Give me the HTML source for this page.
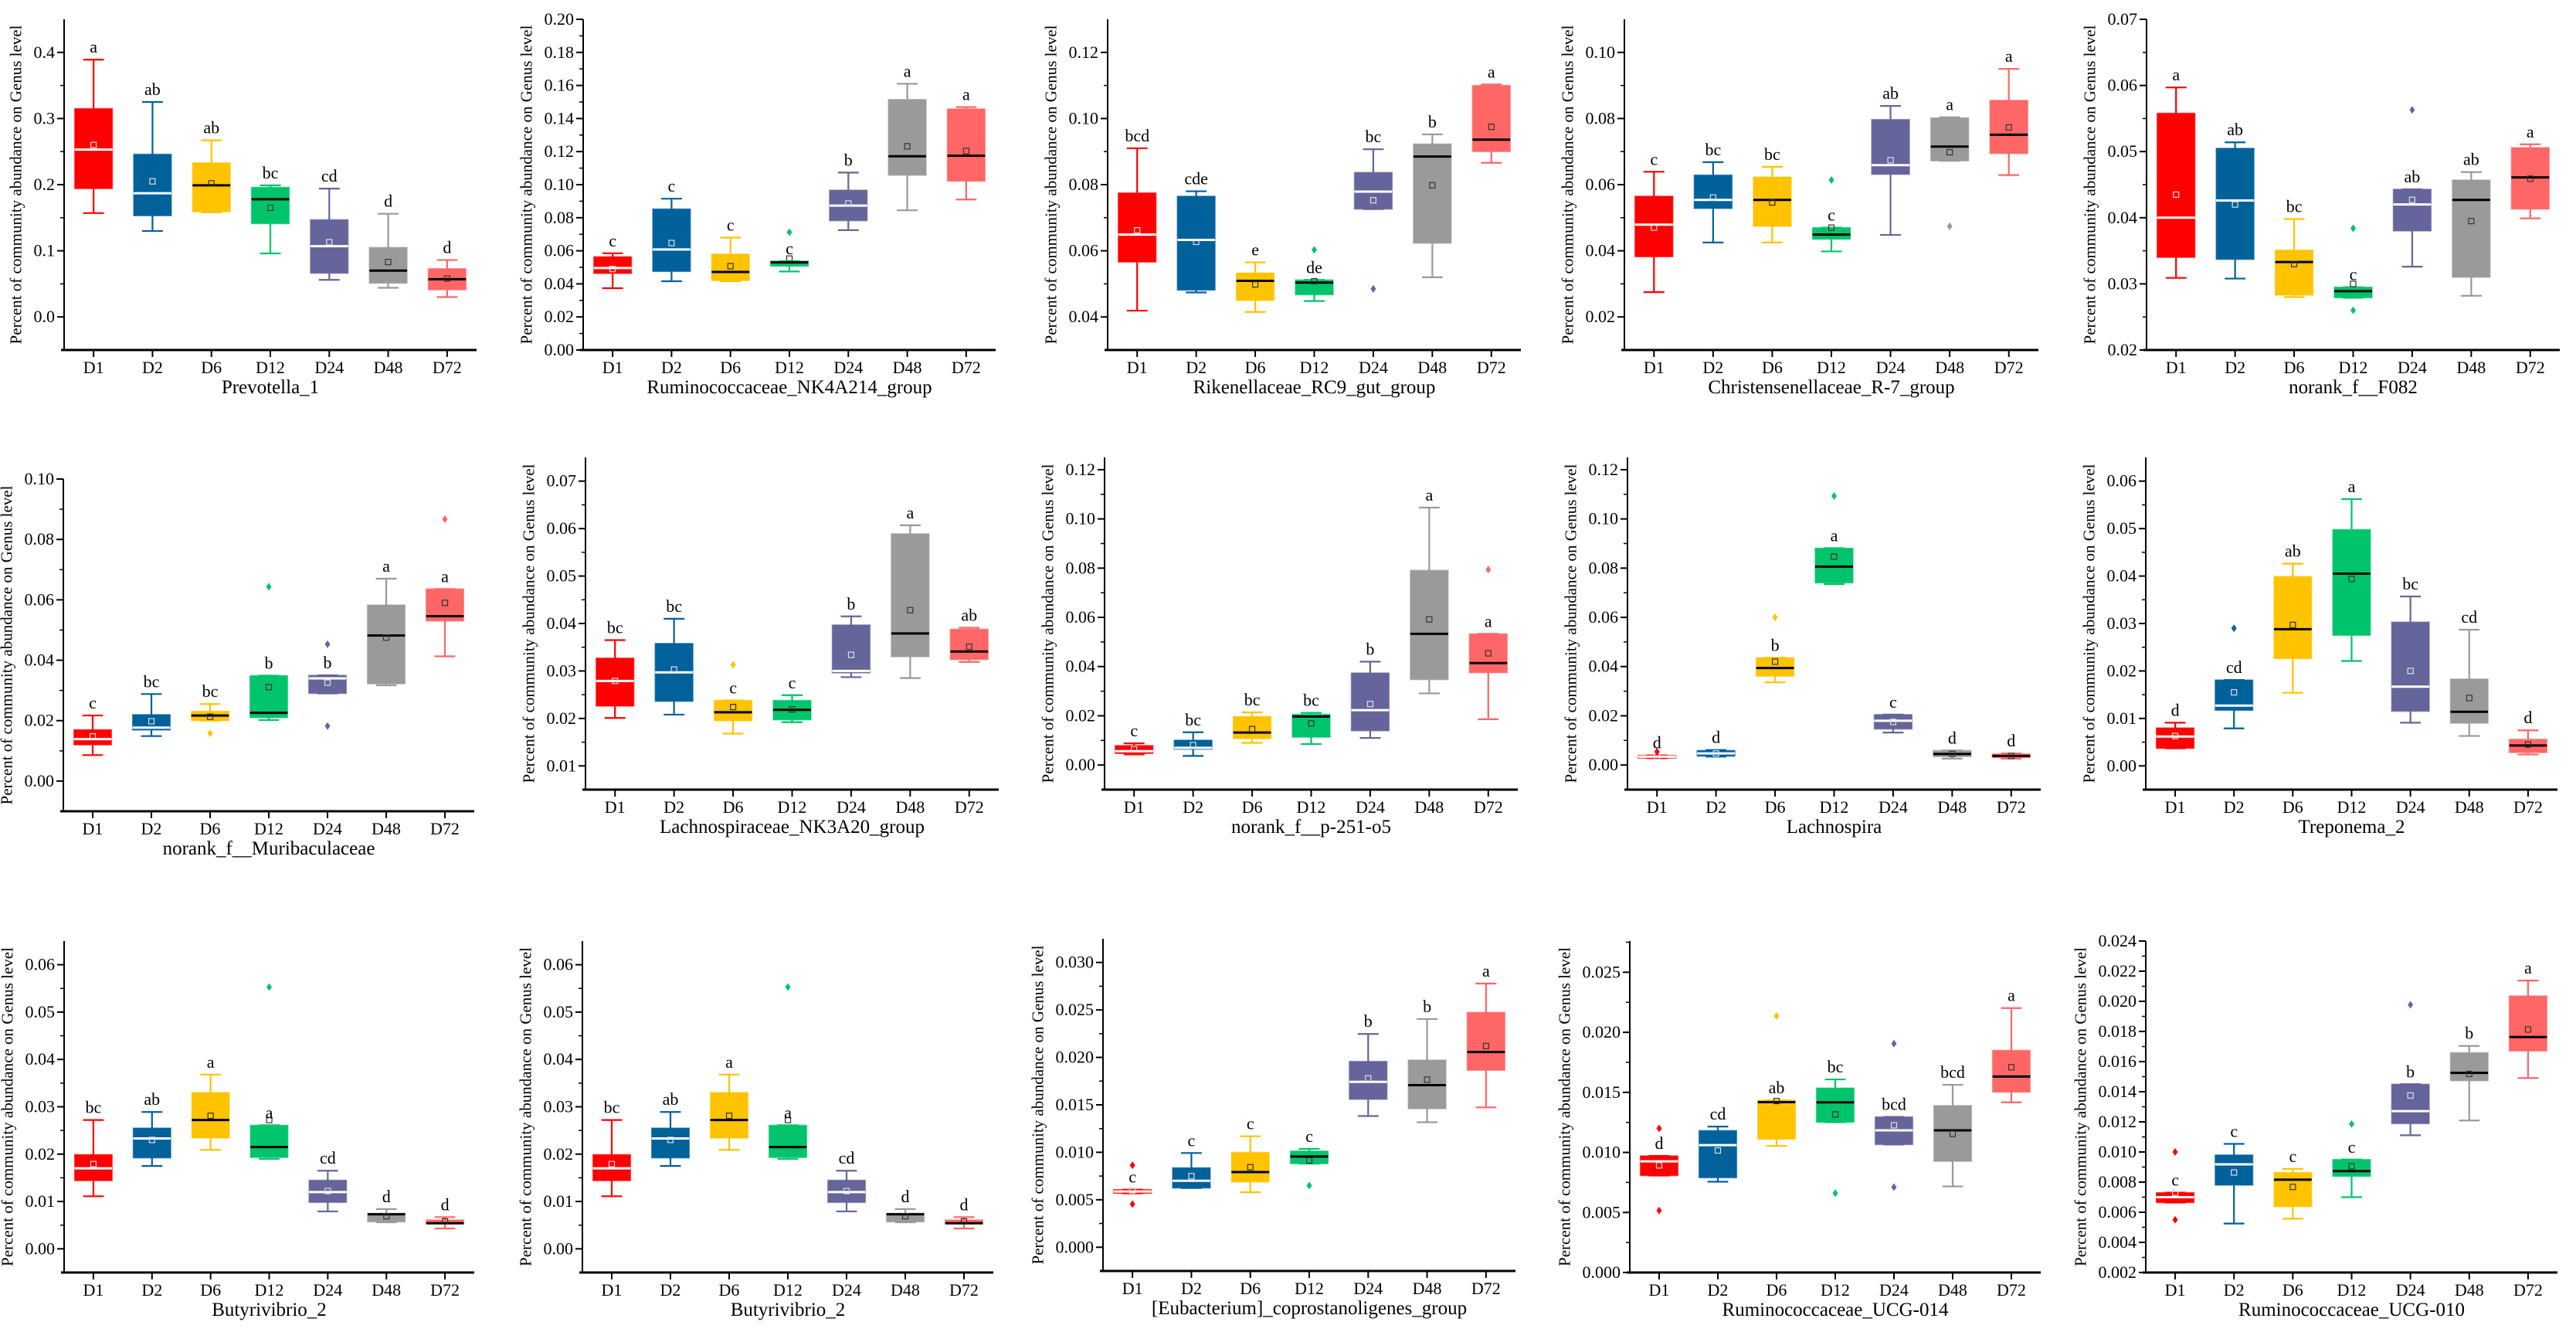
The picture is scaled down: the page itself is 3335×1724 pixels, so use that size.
<!DOCTYPE html>
<html><head><meta charset="utf-8"><title>Genus boxplots</title>
<style>
html,body{margin:0;padding:0;background:#fff;}
svg{display:block;font-family:"Liberation Serif",serif;}
</style></head>
<body>
<svg id="fig" xmlns="http://www.w3.org/2000/svg" width="3335" height="1724" viewBox="0 0 3335 1724"></svg>
<script>
const categories=['D1','D2','D6','D12','D24','D48','D72'];
const titles=['Prevotella_1','Ruminococcaceae_NK4A214_group','Rikenellaceae_RC9_gut_group','Christensenellaceae_R-7_group','norank_f__F082','norank_f__Muribaculaceae','Lachnospiraceae_NK3A20_group','norank_f__p-251-o5','Lachnospira','Treponema_2','Butyrivibrio_2','Butyrivibrio_2','[Eubacterium]_coprostanoligenes_group','Ruminococcaceae_UCG-014','Ruminococcaceae_UCG-010'];

const p1Low=[0.157,0.130,0.158,0.096,0.056,0.044,0.030];
const p1Q1=[0.194,0.153,0.159,0.141,0.066,0.051,0.041];
const p1Med=[0.253,0.187,0.199,0.178,0.107,0.070,0.057];
const p1Q3=[0.315,0.246,0.233,0.196,0.147,0.105,0.073];
const p1High=[0.389,0.325,0.267,0.199,0.194,0.156,0.086];
const p1Mean=[0.260,0.205,0.202,0.165,0.113,0.083,0.058];
const p1Out=[[],[],[],[],[],[],[]];
const p1Sig=['a','ab','ab','bc','cd','d','d'];

const p2Low=[0.0374,0.0416,0.0416,0.0475,0.0725,0.0845,0.091];
const p2Q1=[0.0463,0.0475,0.042,0.0507,0.0782,0.1057,0.1021];
const p2Med=[0.0496,0.0608,0.0472,0.053,0.0873,0.1172,0.1175];
const p2Q3=[0.0564,0.0853,0.058,0.0538,0.0967,0.1515,0.1458];
const p2High=[0.0585,0.0915,0.068,0.0538,0.1073,0.161,0.1469];
const p2Mean=[0.049,0.0647,0.0507,0.0553,0.0886,0.1232,0.1204];
const p2Out=[[],[],[],[0.0712],[],[],[]];
const p2Sig=['c','c','c','c','b','a','a'];

const p3Low=[0.0419,0.0474,0.0415,0.0448,0.0726,0.052,0.0866];
const p3Q1=[0.0566,0.0481,0.045,0.0467,0.0726,0.0623,0.09];
const p3Med=[0.0649,0.0633,0.0509,0.0504,0.0779,0.0885,0.0936];
const p3Q3=[0.0775,0.0765,0.0533,0.0512,0.0837,0.0923,0.11];
const p3High=[0.091,0.078,0.0565,0.0512,0.0907,0.0952,0.1103];
const p3Mean=[0.0662,0.0627,0.0498,0.0508,0.0753,0.0798,0.0975];
const p3Out=[[],[],[],[0.0603],[0.0485],[],[]];
const p3Sig=['bcd','cde','e','de','bc','b','a'];

const p4Low=[0.0275,0.0425,0.0425,0.0398,0.0448,0.0672,0.0629];
const p4Q1=[0.0382,0.0528,0.0474,0.0435,0.0631,0.0672,0.0694];
const p4Med=[0.0479,0.0554,0.0554,0.0449,0.0659,0.0715,0.0751];
const p4Q3=[0.0565,0.0629,0.0623,0.047,0.0797,0.0802,0.0855];
const p4High=[0.0639,0.0668,0.0654,0.047,0.0838,0.0804,0.095];
const p4Mean=[0.047,0.0561,0.0546,0.047,0.0674,0.0698,0.0773];
const p4Out=[[],[],[],[0.0614],[],[0.0474],[]];
const p4Sig=['c','bc','bc','c','ab','a','a'];

const p5Low=[0.0309,0.0308,0.028,0.0279,0.0326,0.0282,0.0399];
const p5Q1=[0.034,0.0337,0.0283,0.0279,0.038,0.031,0.0413];
const p5Med=[0.04,0.0426,0.0333,0.0289,0.042,0.0427,0.0461];
const p5Q3=[0.0558,0.0505,0.0351,0.0295,0.0443,0.0457,0.0506];
const p5High=[0.0597,0.0514,0.0398,0.0295,0.0443,0.0469,0.0511];
const p5Mean=[0.0435,0.042,0.033,0.03,0.0427,0.0395,0.0459];
const p5Out=[[],[],[],[0.026,0.0384],[0.0563],[],[]];
const p5Sig=['a','ab','bc','c','ab','ab','a'];

const p6Low=[0.0086,0.0149,0.02,0.0202,0.029,0.0317,0.0413];
const p6Q1=[0.012,0.0169,0.02,0.021,0.029,0.0322,0.053];
const p6Med=[0.0139,0.0177,0.0217,0.0226,0.034,0.0482,0.0546];
const p6Q3=[0.017,0.022,0.0231,0.0349,0.035,0.0583,0.0636];
const p6High=[0.0217,0.0288,0.0255,0.0349,0.035,0.067,0.0636];
const p6Mean=[0.0148,0.0198,0.0213,0.0311,0.0326,0.0475,0.059];
const p6Out=[[],[],[0.0158],[0.0643],[0.0182,0.0453],[],[0.0867]];
const p6Sig=['c','bc','bc','b','b','a','a'];

const p7Low=[0.0201,0.0208,0.0168,0.0192,0.0287,0.0285,0.0319];
const p7Q1=[0.0226,0.0236,0.0195,0.0197,0.0296,0.033,0.0324];
const p7Med=[0.0279,0.0297,0.0213,0.0218,0.03,0.0379,0.0341];
const p7Q3=[0.0327,0.0358,0.0238,0.0238,0.0397,0.0589,0.0388];
const p7High=[0.0365,0.041,0.0238,0.0249,0.0415,0.0607,0.0391];
const p7Mean=[0.0279,0.0303,0.0224,0.0219,0.0334,0.0428,0.0351];
const p7Out=[[],[],[0.0313],[],[],[],[]];
const p7Sig=['bc','bc','c','c','b','a','ab'];

const p8Low=[0.0043,0.0037,0.009,0.0085,0.011,0.0291,0.0186];
const p8Q1=[0.0047,0.0064,0.0107,0.0113,0.0139,0.0347,0.0375];
const p8Med=[0.0056,0.007,0.0132,0.0197,0.0223,0.0533,0.0414];
const p8Q3=[0.0079,0.0101,0.0197,0.0206,0.0374,0.0791,0.0533];
const p8High=[0.0088,0.0133,0.0214,0.0212,0.042,0.1046,0.0533];
const p8Mean=[0.0064,0.0081,0.0146,0.0169,0.0248,0.0592,0.0454];
const p8Out=[[],[],[],[],[],[],[0.0794]];
const p8Sig=['c','bc','bc','bc','b','a','a'];

const p9Low=[0.0028,0.0034,0.0336,0.0735,0.0132,0.0026,0.0026];
const p9Q1=[0.0028,0.0036,0.0361,0.074,0.0146,0.0034,0.003];
const p9Med=[0.0034,0.0047,0.0394,0.0806,0.018,0.0045,0.0037];
const p9Q3=[0.0039,0.0059,0.0436,0.0881,0.0205,0.0059,0.0045];
const p9High=[0.0039,0.0061,0.0436,0.0881,0.0205,0.0059,0.0047];
const p9Mean=[0.0034,0.0047,0.042,0.0847,0.0175,0.0045,0.0037];
const p9Out=[[0.0054],[],[0.06],[0.1093],[],[],[]];
const p9Sig=['d','d','b','a','c','d','d'];

const p10Low=[0.0037,0.0079,0.0154,0.0221,0.0091,0.0063,0.0024];
const p10Q1=[0.0037,0.0117,0.0226,0.0275,0.0115,0.009,0.0028];
const p10Med=[0.0062,0.0127,0.0288,0.0405,0.0167,0.0114,0.0043];
const p10Q3=[0.008,0.0181,0.0399,0.0498,0.0303,0.0183,0.0056];
const p10High=[0.0091,0.0181,0.0426,0.0562,0.0357,0.0287,0.0075];
const p10Mean=[0.0063,0.0155,0.0297,0.0394,0.02,0.0143,0.0045];
const p10Out=[[],[0.029],[],[],[],[],[]];
const p10Sig=['d','cd','ab','a','bc','cd','d'];

const p11Low=[0.0111,0.0175,0.0209,0.019,0.0079,0.0056,0.0043];
const p11Q1=[0.0144,0.0192,0.0234,0.0193,0.0098,0.0057,0.0053];
const p11Med=[0.017,0.0233,0.0272,0.0215,0.012,0.0073,0.0054];
const p11Q3=[0.0199,0.0255,0.033,0.0261,0.0145,0.0075,0.0061];
const p11High=[0.0272,0.0289,0.0368,0.0261,0.0165,0.0084,0.0067];
const p11Mean=[0.0179,0.023,0.0281,0.0272,0.0122,0.0069,0.0058];
const p11Out=[[],[],[],[0.0553],[],[],[]];
const p11Sig=['bc','ab','a','a','cd','d','d'];

const p12Low=[0.0111,0.0175,0.0209,0.019,0.0079,0.0056,0.0043];
const p12Q1=[0.0144,0.0192,0.0234,0.0193,0.0098,0.0057,0.0053];
const p12Med=[0.017,0.0233,0.0272,0.0215,0.012,0.0073,0.0054];
const p12Q3=[0.0199,0.0255,0.033,0.0261,0.0145,0.0075,0.0061];
const p12High=[0.0272,0.0289,0.0368,0.0261,0.0165,0.0084,0.0067];
const p12Mean=[0.0179,0.023,0.0281,0.0272,0.0122,0.0069,0.0058];
const p12Out=[[],[],[],[0.0553],[],[],[]];
const p12Sig=['bc','ab','a','a','cd','d','d'];

const p13Low=[0.00568,0.00624,0.00579,0.0088,0.01382,0.01317,0.01473];
const p13Q1=[0.00568,0.00624,0.00687,0.0088,0.01558,0.01459,0.01864];
const p13Med=[0.00587,0.007,0.00792,0.00956,0.01742,0.01708,0.02057];
const p13Q3=[0.00607,0.00837,0.00999,0.01013,0.01958,0.01972,0.02474];
const p13High=[0.00607,0.00993,0.01169,0.01036,0.02247,0.02404,0.02778];
const p13Mean=[0.006,0.00749,0.00843,0.00914,0.01779,0.01765,0.0212];
const p13Out=[[0.00863,0.00454],[],[],[0.0065],[],[],[]];
const p13Sig=['c','c','c','c','b','b','a'];

const p14Low=[0.00807,0.00756,0.01054,0.01251,0.01065,0.00717,0.01417];
const p14Q1=[0.00807,0.00789,0.0111,0.01251,0.01065,0.00926,0.01502];
const p14Med=[0.00926,0.01061,0.01419,0.01417,0.01184,0.01184,0.01632];
const p14Q3=[0.00971,0.01182,0.01435,0.01536,0.01296,0.0139,0.0185];
const p14High=[0.00971,0.01215,0.01435,0.01608,0.01296,0.01563,0.02202];
const p14Mean=[0.00892,0.01016,0.01428,0.01316,0.01226,0.01155,0.01709];
const p14Out=[[0.012,0.00516],[],[0.02135],[0.00661],[0.01906,0.00711],[],[]];
const p14Sig=['d','cd','ab','bc','bcd','bcd','a'];

const p15Low=[0.00664,0.00525,0.00557,0.007,0.01111,0.01209,0.01491];
const p15Q1=[0.00664,0.0078,0.00637,0.00838,0.01188,0.01473,0.0167];
const p15Med=[0.007,0.00918,0.00816,0.00873,0.01271,0.01525,0.01763];
const p15Q3=[0.0073,0.0098,0.00864,0.0095,0.0145,0.01659,0.02036];
const p15High=[0.0073,0.01054,0.00888,0.0095,0.0145,0.01704,0.02138];
const p15Mean=[0.0073,0.00864,0.00768,0.00905,0.01375,0.01518,0.01813];
const p15Out=[[0.0055,0.0100],[],[],[0.01186],[0.01977],[],[]];
const p15Sig=['c','c','c','c','b','b','a'];

const seriesLow=[p1Low,p2Low,p3Low,p4Low,p5Low,p6Low,p7Low,p8Low,p9Low,p10Low,p11Low,p12Low,p13Low,p14Low,p15Low];
const seriesQ1=[p1Q1,p2Q1,p3Q1,p4Q1,p5Q1,p6Q1,p7Q1,p8Q1,p9Q1,p10Q1,p11Q1,p12Q1,p13Q1,p14Q1,p15Q1];
const seriesMed=[p1Med,p2Med,p3Med,p4Med,p5Med,p6Med,p7Med,p8Med,p9Med,p10Med,p11Med,p12Med,p13Med,p14Med,p15Med];
const seriesQ3=[p1Q3,p2Q3,p3Q3,p4Q3,p5Q3,p6Q3,p7Q3,p8Q3,p9Q3,p10Q3,p11Q3,p12Q3,p13Q3,p14Q3,p15Q3];
const seriesHigh=[p1High,p2High,p3High,p4High,p5High,p6High,p7High,p8High,p9High,p10High,p11High,p12High,p13High,p14High,p15High];
const seriesMean=[p1Mean,p2Mean,p3Mean,p4Mean,p5Mean,p6Mean,p7Mean,p8Mean,p9Mean,p10Mean,p11Mean,p12Mean,p13Mean,p14Mean,p15Mean];
const seriesOut=[p1Out,p2Out,p3Out,p4Out,p5Out,p6Out,p7Out,p8Out,p9Out,p10Out,p11Out,p12Out,p13Out,p14Out,p15Out];
const seriesSig=[p1Sig,p2Sig,p3Sig,p4Sig,p5Sig,p6Sig,p7Sig,p8Sig,p9Sig,p10Sig,p11Sig,p12Sig,p13Sig,p14Sig,p15Sig];

// axis domains and tick definitions [min,max,firstTick,lastTick,step,decimals]
const yDomains=[[-0.05,0.45],[0,0.20],[0.03,0.13],[0.01,0.11],[0.02,0.07],[-0.01,0.10],[0.005,0.075],[-0.01,0.125],[-0.01,0.125],[-0.005,0.065],[-0.005,0.065],[-0.005,0.065],[-0.0025,0.0325],[0,0.0276],[0.002,0.024]];
const yTicks=[[0,0.4,0.1,1],[0,0.2,0.02,2],[0.04,0.12,0.02,2],[0.02,0.10,0.02,2],[0.02,0.07,0.01,2],[0,0.10,0.02,2],[0.01,0.07,0.01,2],[0,0.12,0.02,2],[0,0.12,0.02,2],[0,0.06,0.01,2],[0,0.06,0.01,2],[0,0.06,0.01,2],[0,0.030,0.005,3],[0,0.025,0.005,3],[0.002,0.024,0.002,3]];

// layout (pixels): left,right,top,bottom
const frames=[[83,617,25,453],[755,1289,25,453],[1434,1969,25,453],[2103,2639,25,453],[2779,3314,25,453],
[82,614,620,1050],[758,1293,592,1022],[1430,1965,592,1022],[2107,2642,592,1022],[2778,3311,592,1022],
[83,614,1218,1647],[754,1286,1218,1647],[1428,1962,1215,1645],[2110,2642,1218,1647],[2778,3311,1218,1647]];

const COLORS=['#ff0000','#00619b','#ffc300','#00c46b','#65659b','#9a9a9a','#ff6666'];
const DARK=[true,true,false,false,true,false,false];
const NS='http://www.w3.org/2000/svg';
const svg=document.getElementById('fig');

function mk(parent,tag,attrs,text){
  const e=document.createElementNS(NS,tag);
  for(const k in attrs) e.setAttribute(k,attrs[k]);
  if(text!==undefined) e.textContent=text;
  parent.appendChild(e);
  return e;
}

for(let p=0;p<15;p++){
  const [L,R,T,B]=frames[p];
  const [dmin,dmax]=yDomains[p];
  const y=v=>B-(v-dmin)/(dmax-dmin)*(B-T);
  const band=(R-L)/7;
  const x=i=>L+band*(i+0.5);
  const bw=band*0.64;
  const g=mk(svg,'g',{});
  
  

  // y ticks
  const [t0,t1,st,dec]=yTicks[p];
  const n=Math.round((t1-t0)/st);
  let maxW=0;
  for(let k=0;k<=n;k++){
    const v=t0+k*st;
    const yy=y(v);
    const tk=mk(g,'line',{x1:L-9,x2:L,y1:yy,y2:yy,stroke:'#000','stroke-width':2});
    
    
    const lb=mk(g,'text',{x:L-12,y:yy+7,'text-anchor':'end','font-size':22,fill:'#000'},v.toFixed(dec));
    
    
    maxW=Math.max(maxW,lb.getComputedTextLength?lb.getComputedTextLength():dec*11+16);
    for(const mv of [v-st/2,v+st/2]){
      if(mv>dmin && mv<dmax && (k===0||mv>v)){
        const my=y(mv);
        const mt=mk(g,'line',{x1:L-5,x2:L,y1:my,y2:my,stroke:'#000','stroke-width':1.5});
        
        
      }
    }
  }
  // axes
  const ya=mk(g,'line',{x1:L,x2:L,y1:T,y2:B,stroke:'#000','stroke-width':2});
  
  
  const xa=mk(g,'line',{x1:L-4,x2:R,y1:B,y2:B,stroke:'#000','stroke-width':3});
  
  
  // y title
  const tx=L-12-maxW-16;
  const yt=mk(g,'text',{x:tx,y:(T+B)/2,'text-anchor':'middle','font-size':21,fill:'#000',transform:`rotate(-90 ${tx} ${(T+B)/2})`},'Percent of community abundance on Genus level');
  
  
  // x title
  const xt=mk(g,'text',{x:(L+R)/2,y:B+56,'text-anchor':'middle','font-size':25,fill:'#000'},titles[p]);
  
  

  for(let i=0;i<7;i++){
    const cx=x(i), c=COLORS[i];
    const xtk=mk(g,'line',{x1:cx,x2:cx,y1:B,y2:B+9,stroke:'#000','stroke-width':2});
    
    
    const xl=mk(g,'text',{x:cx,y:B+30,'text-anchor':'middle','font-size':22,fill:'#000'},categories[i]);
    
    

    const lo=seriesLow[p][i],q1=seriesQ1[p][i],md=seriesMed[p][i],q3=seriesQ3[p][i],hi=seriesHigh[p][i],mn=seriesMean[p][i];
    const cap=bw*0.55;
    const wk=mk(g,'path',{d:`M${cx},${y(q3)}V${y(hi)}M${cx-cap/2},${y(hi)}H${cx+cap/2}M${cx},${y(q1)}V${y(lo)}M${cx-cap/2},${y(lo)}H${cx+cap/2}`,stroke:c,'stroke-width':2.2,fill:'none'});
    
    
    const bx=mk(g,'rect',{x:cx-bw/2,y:y(q3),width:bw,height:Math.max(1,y(q1)-y(q3)),fill:c,stroke:c,'stroke-opacity':0.6,'stroke-width':1.5});
    
    
    const ml=mk(g,'line',{x1:cx-bw/2,x2:cx+bw/2,y1:y(md),y2:y(md),stroke:DARK[i]?'#ffffff':'#000000','stroke-width':3});
    
    
    const mm=mk(g,'rect',{x:cx-3.5,y:y(mn)-3.5,width:7,height:7,fill:'none',stroke:DARK[i]?'#e0e0e0':'#333','stroke-width':1.2});
    
    
    for(const o of seriesOut[p][i]){
      const oy=y(o);
      const od=mk(g,'path',{d:`M${cx},${oy-5}L${cx+3.5},${oy}L${cx},${oy+5}L${cx-3.5},${oy}Z`,fill:c});
      
      
    }
    const sg=mk(g,'text',{x:cx,y:y(hi)-9,'text-anchor':'middle','font-size':22,fill:'#000'},seriesSig[p][i]);
    
    
  }
}
</script>
</body></html>
